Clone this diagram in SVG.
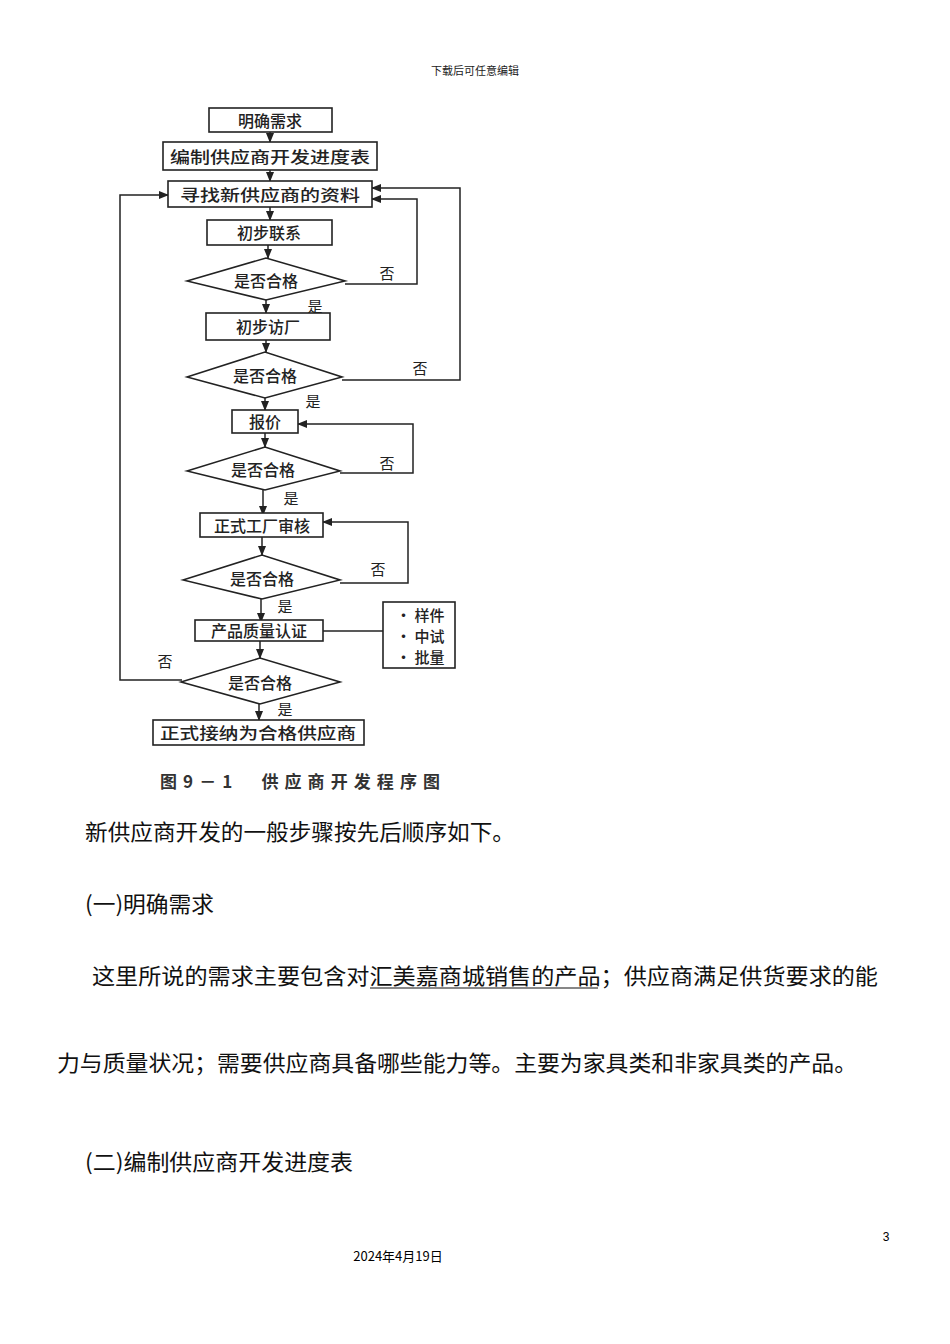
<svg xmlns="http://www.w3.org/2000/svg" width="950" height="1344" viewBox="0 0 950 1344">
<defs>
<marker id="ar" markerWidth="10" markerHeight="8" refX="9" refY="4" orient="auto" markerUnits="userSpaceOnUse"><path d="M0,0 L10,4 L0,8 Z" fill="#222"/></marker>
<style>
.b{fill:#fff;stroke:#222;stroke-width:1.6}
.t{font-family:"Noto Sans CJK SC",sans-serif;font-size:16px;font-weight:500;fill:#222;text-anchor:middle;dominant-baseline:central}
.s{font-family:"Noto Sans CJK SC",sans-serif;font-size:15px;font-weight:500;fill:#222;dominant-baseline:central}
.l{font-family:"Noto Sans CJK SC",sans-serif;font-size:15px;fill:#222;text-anchor:middle;dominant-baseline:central}
.c{fill:none;stroke:#222;stroke-width:1.5}
.p{font-family:"Noto Sans CJK SC",sans-serif;font-size:22px;fill:#111}
</style>
</defs>
<rect width="950" height="1344" fill="#fff"/>
<text x="475" y="75" style="font-family:'Noto Sans CJK SC',sans-serif;font-size:11px;text-anchor:middle" fill="#222">下载后可任意编辑</text>
<g id="connectors">
<path class="c" d="M270,132 V142" marker-end="url(#ar)"/>
<path class="c" d="M270,170 V181" marker-end="url(#ar)"/>
<path class="c" d="M270,207 V220" marker-end="url(#ar)"/>
<path class="c" d="M268,245 V258" marker-end="url(#ar)"/>
<path class="c" d="M266,300 V313" marker-end="url(#ar)"/>
<path class="c" d="M345,284 H417 V199 H372" marker-end="url(#ar)"/>
<path class="c" d="M266,340 V352" marker-end="url(#ar)"/>
<path class="c" d="M342,380 H460 V188 H372" marker-end="url(#ar)"/>
<path class="c" d="M265,398 V410" marker-end="url(#ar)"/>
<path class="c" d="M265,433 V447" marker-end="url(#ar)"/>
<path class="c" d="M340,473 H413 V424 H298" marker-end="url(#ar)"/>
<path class="c" d="M263,490 V515" marker-end="url(#ar)"/>
<path class="c" d="M262,537 V555" marker-end="url(#ar)"/>
<path class="c" d="M340,583 H408 V522 H323" marker-end="url(#ar)"/>
<path class="c" d="M261,597 V622" marker-end="url(#ar)"/>
<path class="c" d="M323,631 H383"/>
<path class="c" d="M260,640 V658" marker-end="url(#ar)"/>
<path class="c" d="M182,680 H120 V195 H168" marker-end="url(#ar)"/>
<path class="c" d="M259,702 V720" marker-end="url(#ar)"/>
</g>
<g id="labels">
<text class="l" x="387" y="272">否</text><text class="l" x="315" y="305">是</text>
<text class="l" x="420" y="367">否</text><text class="l" x="313" y="400">是</text>
<text class="l" x="387" y="462">否</text><text class="l" x="291" y="497">是</text>
<text class="l" x="378" y="568">否</text><text class="l" x="285" y="605">是</text>
<text class="l" x="165" y="660">否</text><text class="l" x="285" y="708">是</text>
</g>
<g id="n1"><rect class="b" x="209" y="108" width="123" height="24"/><text class="t" x="270" y="120">明确需求</text></g>
<g id="n2"><rect class="b" x="163" y="142" width="214" height="28"/><text class="t" x="270" y="156" textLength="200" lengthAdjust="spacingAndGlyphs">编制供应商开发进度表</text></g>
<g id="n3"><rect class="b" x="168" y="181" width="204" height="26"/><text class="t" x="270" y="194" textLength="180" lengthAdjust="spacingAndGlyphs">寻找新供应商的资料</text></g>
<g id="n4"><rect class="b" x="207" y="220" width="125" height="25"/><text class="t" x="269" y="232">初步联系</text></g>
<g id="d1"><polygon class="b" points="187,281 266,258 345,281 266,300"/><text class="t" x="266" y="280">是否合格</text></g>
<g id="n5"><rect class="b" x="206" y="313" width="124" height="27"/><text class="t" x="268" y="326">初步访厂</text></g>
<g id="d2"><polygon class="b" points="187,377 265,352 342,377 265,398"/><text class="t" x="265" y="375">是否合格</text></g>
<g id="n6"><rect class="b" x="232" y="410" width="66" height="23"/><text class="t" x="265" y="421">报价</text></g>
<g id="d3"><polygon class="b" points="187,471 265,447 340,471 265,490"/><text class="t" x="263" y="469">是否合格</text></g>
<g id="n7"><rect class="b" x="200" y="513" width="123" height="24"/><text class="t" x="262" y="525">正式工厂审核</text></g>
<g id="d4"><polygon class="b" points="183,580 262,555 340,580 262,599"/><text class="t" x="262" y="578">是否合格</text></g>
<g id="n8"><rect class="b" x="195" y="620" width="128" height="21"/><text class="t" x="259" y="630">产品质量认证</text></g>
<g id="side"><rect class="b" x="383" y="602" width="72" height="66"/>
<text class="s" x="396" y="614">• 样件</text><text class="s" x="396" y="635">• 中试</text><text class="s" x="396" y="656">• 批量</text></g>
<g id="d5"><polygon class="b" points="181,682 260,658 340,682 260,704"/><text class="t" x="260" y="682">是否合格</text></g>
<g id="n9"><rect class="b" x="153" y="720" width="211" height="25"/><text class="t" x="258" y="732" textLength="196" lengthAdjust="spacingAndGlyphs">正式接纳为合格供应商</text></g>
<text x="160" y="780" textLength="280" lengthAdjust="spacing" style="font-family:'Noto Sans CJK SC',sans-serif;font-size:17px;font-weight:bold;dominant-baseline:central" fill="#333">图9－1　供应商开发程序图</text>
<text class="p" x="85" y="840" textLength="430" lengthAdjust="spacingAndGlyphs">新供应商开发的一般步骤按先后顺序如下。</text>
<text class="p" x="85" y="912" textLength="129" lengthAdjust="spacingAndGlyphs">(一)明确需求</text>
<text class="p" x="92" y="984" textLength="786" lengthAdjust="spacingAndGlyphs">这里所说的需求主要包含对汇美嘉商城销售的产品；供应商满足供货要求的能</text>
<line x1="370" y1="988" x2="598" y2="988" stroke="#111" stroke-width="1.2"/>
<text class="p" x="57" y="1071" textLength="800" lengthAdjust="spacingAndGlyphs">力与质量状况；需要供应商具备哪些能力等。主要为家具类和非家具类的产品。</text>
<text class="p" x="85" y="1170" textLength="268" lengthAdjust="spacingAndGlyphs">(二)编制供应商开发进度表</text>
<text x="886" y="1241" style="font-family:'Liberation Sans',sans-serif;font-size:12px;text-anchor:middle">3</text>
<text x="398" y="1261" style="font-family:'Noto Sans CJK SC',sans-serif;font-size:13px;text-anchor:middle">2024年4月19日</text>
</svg>
